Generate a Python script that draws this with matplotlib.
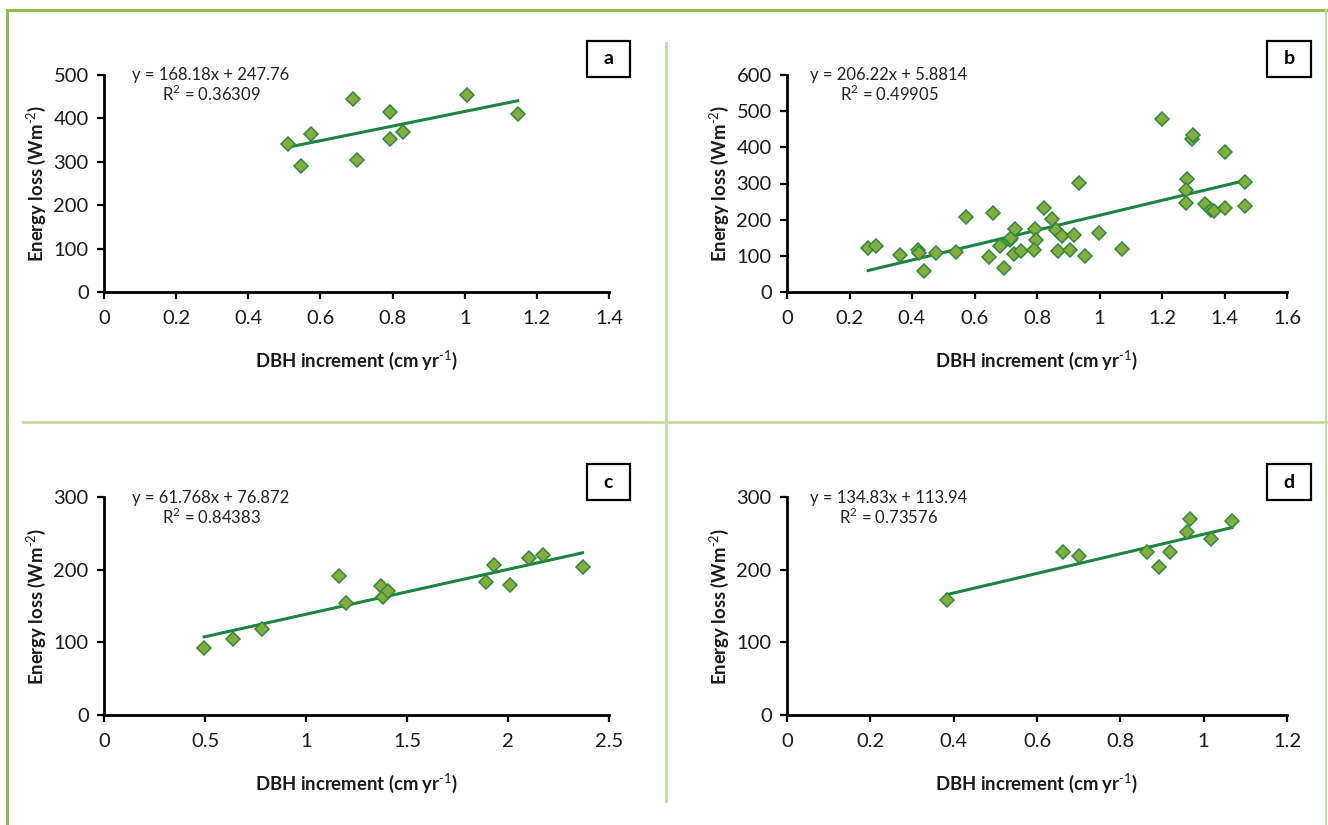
import matplotlib
matplotlib.use("Agg")
import matplotlib.pyplot as plt
import numpy as np
from matplotlib.patches import Rectangle
from matplotlib.lines import Line2D

plt.rcParams['font.family'] = ['Lato', 'DejaVu Sans']
plt.rcParams['mathtext.fontset'] = 'custom'
plt.rcParams['mathtext.rm'] = 'Lato'
plt.rcParams['mathtext.bf'] = 'Lato:bold'

# ---------------- data ----------------
a_x = [0.509, 0.546, 0.575, 0.689, 0.701, 0.792, 0.792, 0.828, 1.007, 1.147]
a_y = [341, 290, 365, 445, 303, 414, 352, 368, 455, 411]
a_slope, a_icpt, a_r2 = 168.18, 247.76, "0.36309"

b_x = [0.260, 0.284, 0.362, 0.420, 0.423, 0.438, 0.478, 0.542, 0.572, 0.645,
       0.659, 0.680, 0.693, 0.712, 0.716, 0.728, 0.726, 0.750, 0.792, 0.797,
       0.790, 0.822, 0.849, 0.862, 0.880, 0.867, 0.907, 0.917, 0.935, 0.955,
       0.999, 1.071, 1.201, 1.295, 1.300, 1.400, 1.279, 1.276, 1.277, 1.337,
       1.358, 1.366, 1.401, 1.465, 1.467]
b_y = [123, 126, 103, 117, 108, 57, 108, 110, 206, 96,
       219, 126, 67, 144, 150, 173, 105, 112, 173, 144,
       115, 231, 202, 171, 156, 114, 116, 157, 302, 99,
       163, 120, 477, 423, 434, 388, 313, 281, 245, 242,
       228, 224, 232, 304, 237]
b_slope, b_icpt, b_r2 = 206.22, 5.8814, "0.49905"

c_x = [0.496, 0.640, 0.783, 1.165, 1.196, 1.371, 1.379, 1.408, 1.890, 1.931,
       2.008, 2.104, 2.171, 2.369]
c_y = [92, 105, 118, 191, 154, 178, 162, 170, 183, 206,
       179, 216, 220, 204]
c_slope, c_icpt, c_r2 = 61.768, 76.872, "0.84383"

d_x = [0.383, 0.663, 0.701, 0.864, 0.892, 0.919, 0.959, 0.968, 1.018, 1.068]
d_y = [158, 224, 219, 225, 204, 225, 252, 270, 242, 267]
d_slope, d_icpt, d_r2 = 134.83, 113.94, "0.73576"

panel_letters = ["a", "b", "c", "d"]
x_ticks_a = [0, 0.2, 0.4, 0.6, 0.8, 1, 1.2, 1.4]
x_ticks_b = [0, 0.2, 0.4, 0.6, 0.8, 1, 1.2, 1.4, 1.6]
x_ticks_c = [0, 0.5, 1, 1.5, 2, 2.5]
x_ticks_d = [0, 0.2, 0.4, 0.6, 0.8, 1, 1.2]
y_ticks_a = [0, 100, 200, 300, 400, 500]
y_ticks_b = [0, 100, 200, 300, 400, 500, 600]
y_ticks_cd = [0, 100, 200, 300]

x_label = r"DBH increment (cm yr$^{\text{-1}}$)"
y_label = r"Energy loss (Wm$^{\text{-2}}$)"

# ---------------- layout ----------------
W, H = 1328, 825
fig = plt.figure(figsize=(W / 100, H / 100), dpi=100)

def fx(px):
    return px / W

def fy(py):
    return 1 - py / H

MARKER_FACE = "#86ad3b"
MARKER_EDGE = "#2a8a3e"
LINE_COL = "#1a8440"
FRAME_COL = "#8fbc4e"
DIV_COL = "#c4dba0"

# outer frame and dividers
fig.add_artist(Line2D([fx(7), fx(7)], [fy(10), fy(825)], color=FRAME_COL, lw=2.2))
fig.add_artist(Line2D([fx(7), fx(1326)], [fy(10), fy(10)], color=FRAME_COL, lw=2.2))
fig.add_artist(Line2D([fx(1326), fx(1326)], [fy(10), fy(825)], color=DIV_COL, lw=1.5))
fig.add_artist(Line2D([fx(23), fx(1326)], [fy(422), fy(422)], color=DIV_COL, lw=2))
fig.add_artist(Line2D([fx(666), fx(666)], [fy(43), fy(801)], color=DIV_COL, lw=2))

panels = [
    dict(x=a_x, y=a_y, slope=a_slope, icpt=a_icpt, r2=a_r2, xt=x_ticks_a, yt=y_ticks_a,
         box=(104, 75, 609, 292), eqx=211, eqy=75, lb=(587, 41, 630, 77)),
    dict(x=b_x, y=b_y, slope=b_slope, icpt=b_icpt, r2=b_r2, xt=x_ticks_b, yt=y_ticks_b,
         box=(787, 75, 1287, 292), eqx=889, eqy=75, lb=(1267, 41, 1311, 77)),
    dict(x=c_x, y=c_y, slope=c_slope, icpt=c_icpt, r2=c_r2, xt=x_ticks_c, yt=y_ticks_cd,
         box=(104, 497, 609, 715), eqx=211, eqy=498, lb=(587, 464, 630, 500)),
    dict(x=d_x, y=d_y, slope=d_slope, icpt=d_icpt, r2=d_r2, xt=x_ticks_d, yt=y_ticks_cd,
         box=(787, 497, 1287, 715), eqx=889, eqy=498, lb=(1267, 464, 1311, 500)),
]

def fmt(v):
    return "%g" % v

for letter, p in zip(panel_letters, panels):
    l, t, r, b = p["box"]
    ax = fig.add_axes([fx(l), fy(b), fx(r) - fx(l), (b - t) / H])
    ax.set_xlim(p["xt"][0], p["xt"][-1])
    ax.set_ylim(p["yt"][0], p["yt"][-1])
    ax.set_xticks(p["xt"])
    ax.set_yticks(p["yt"])
    ax.set_xticklabels([fmt(v) for v in p["xt"]])
    ax.set_yticklabels([fmt(v) for v in p["yt"]])
    for s in ["top", "right"]:
        ax.spines[s].set_visible(False)
    for s in ["left", "bottom"]:
        ax.spines[s].set_linewidth(2)
        ax.spines[s].set_color("black")
    ax.tick_params(axis="both", direction="out", length=5, width=1.6,
                   labelsize=14.5, colors="black")
    ax.tick_params(axis="x", pad=8)
    ax.tick_params(axis="y", pad=6)
    for lab in ax.get_xticklabels() + ax.get_yticklabels():
        lab.set_fontweight("normal")
        lab.set_color("#1a1a1a")
    ax.patch.set_alpha(0)

    # trend line
    xs = np.array([min(p["x"]), max(p["x"])])
    ax.plot(xs, p["slope"] * xs + p["icpt"], color=LINE_COL, lw=2.2, zorder=2)
    # points
    ax.plot(p["x"], p["y"], linestyle="none", marker="D", markersize=7.3,
            markerfacecolor=MARKER_FACE, markeredgecolor=MARKER_EDGE,
            markeredgewidth=1.1, zorder=3, clip_on=False)

    # labels
    fig.text(fx((l + r) / 2), fy(b + 68), x_label,
             ha="center", va="center", fontsize=13.3, fontweight="bold", color="#1a1a1a")
    fig.text(fx(l - 68), fy((t + b) / 2), y_label,
             ha="center", va="center", rotation=90, fontsize=13.3, fontweight="bold",
             color="#1a1a1a")

    # equation
    eq = "y = %sx + %s" % (fmt(p["slope"]), fmt(p["icpt"]))
    fig.text(fx(p["eqx"]), fy(p["eqy"]), eq, ha="center", va="center", fontsize=12,
             color="#222222")
    fig.text(fx(p["eqx"]), fy(p["eqy"] + 19), r"R$^2$ = %s" % p["r2"], ha="center",
             va="center", fontsize=12, color="#222222")

    # letter box
    bl, bt, br, bb = p["lb"]
    fig.add_artist(Rectangle((fx(bl), fy(bb)), fx(br) - fx(bl), (bb - bt) / H,
                             transform=fig.transFigure, fill=False, ec="black", lw=1.6))
    fig.text(fx((bl + br) / 2), fy((bt + bb) / 2), letter, ha="center", va="center",
             fontsize=14, fontweight="bold", color="black")

fig.savefig("out.png", dpi=100)
